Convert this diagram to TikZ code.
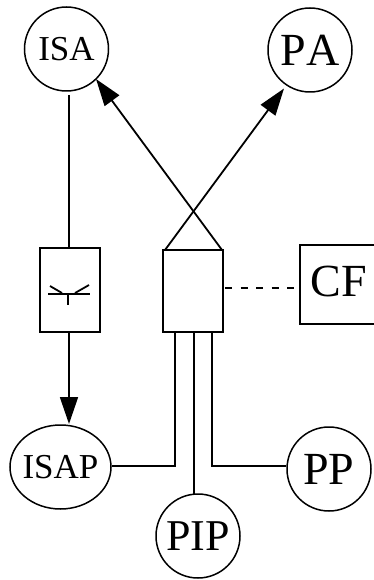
\documentclass[tikz,border=0pt]{standalone}
\usepackage{fontspec}
\setmainfont[Kerning=Off]{Liberation Serif}
\usetikzlibrary{arrows.meta,shapes.geometric}
\tikzset{
  x=1pt,y=-1pt,
  ln/.style={line width=1.8pt,draw=black},
  thin ln/.style={line width=1.3pt,draw=black},
  tip/.style={-{Triangle[length=27pt,width=18pt]}},
  circ/.style={circle,draw=black,line width=1.5pt,minimum size=84pt,inner sep=0pt},
  ell/.style={ellipse,draw=black,line width=1.5pt,minimum width=101pt,minimum height=84pt,inner sep=0pt},
  smalltxt/.style={font=\fontsize{35}{35}\selectfont},
  bigtxt/.style={font=\fontsize{46}{46}\selectfont},
  boxn/.style={rectangle,draw=black,line width=1.8pt,inner sep=0pt},
}
\begin{document}
\begin{tikzpicture}
\useasboundingbox (0,0) rectangle (374,580);
\node[circ,smalltxt] (ISA) at (66.5,49) {ISA};
\node[circ,bigtxt] (PA) at (310,50) {PA};
\node[ell,smalltxt] (ISAP) at (60.5,467) {\makebox[0pt]{ISAP}};
\node[circ,bigtxt] (PP) at (329,469) {PP};
\node[circ,font=\fontsize{44}{44}\selectfont] (PIP) at (198,536) {PIP};
\node[boxn,minimum width=60pt,minimum height=84pt] (A) at (70,290) {};
\node[boxn,minimum width=60pt,minimum height=82pt] (B) at (193,291) {};
\node[bigtxt,inner sep=0pt] (CF) at (338.5,281) {CF};
\draw[ln,line width=1.6pt] (374,245) -- (300,245) -- (300,324) -- (374,324);
% ISA channel
\coordinate (isaTop) at (69,95);
\coordinate (isapTip) at (69,424);
\draw[ln] (isaTop) -- (isaTop |- A.north);
\draw[ln,tip] (A.south -| isaTop) -- (isapTip);
% antenna symbol
\coordinate (s0) at (68,294);
\coordinate (s1) at (48,294);
\coordinate (s2) at (90,294);
\coordinate (s3) at (68,305);
\coordinate (s4) at (50,286);
\coordinate (s5) at (62,293);
\coordinate (s6) at (89,285);
\coordinate (s7) at (75,293);
\draw[ln] (s1) -- (s2);
\draw[ln] (s0) -- (s3);
\draw[ln] (s4) -- (s5);
\draw[ln] (s6) -- (s7);
% crossing hood and arrows
\coordinate (isaTip) at (96,79);
\coordinate (paTip) at (284,88.5);
\coordinate (bl) at (165,250);
\coordinate (br) at (222,250);
\draw[ln,tip] (br) -- (isaTip);
\draw[ln,tip] (bl) -- (paTip);
% dashed
\coordinate (dashA) at (225,288);
\coordinate (dashB) at (296,288);
\draw[thin ln,dash pattern=on 7pt off 8.5pt] (dashA) -- (dashB);
% stems
\coordinate (c1) at (175,466);
\coordinate (c3) at (212,466);
\draw[ln] (c1 |- B.south) -- (c1) -- (ISAP.east |- c1);
\draw[ln] (c3 |- B.south) -- (c3) -- (PP.west |- c3);
\coordinate (c2) at (194,332);
\coordinate (c2e) at (194,494);
\draw[ln,line width=1.5pt] (c2) -- (c2e);
\end{tikzpicture}
\end{document}
